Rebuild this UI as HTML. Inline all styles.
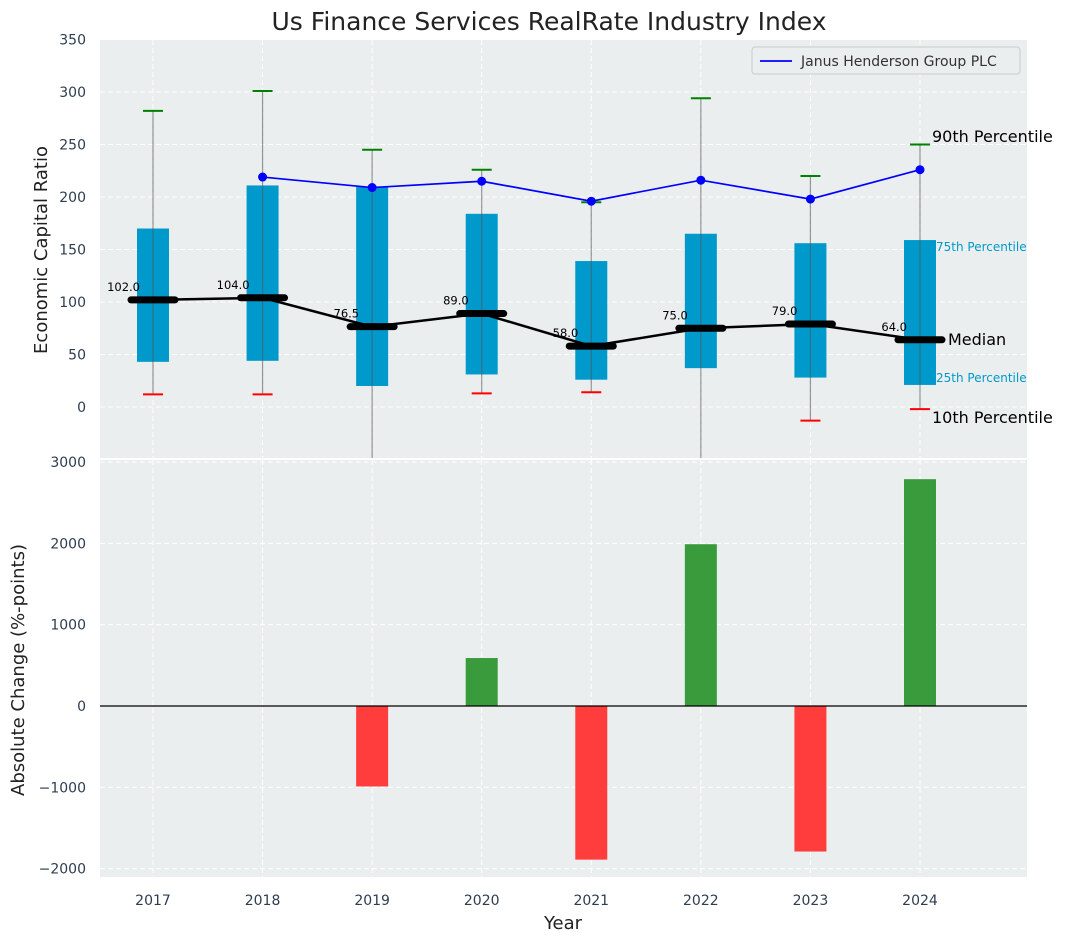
<!DOCTYPE html>
<html><head><meta charset="utf-8"><style>
body{margin:0;background:#fff;font-family:"Liberation Sans","DejaVu Sans",sans-serif}
svg text{font-family:"DejaVu Sans","Liberation Sans",sans-serif}
</style></head><body>
<svg id="c" width="1067" height="942" xmlns="http://www.w3.org/2000/svg"></svg>
<script>
const years=[2017,2018,2019,2020,2021,2022,2023,2024];
const q1=[43,44,20,31,26,37,28,21];
const q3=[170,211,210,184,139,165,156,159];
const p90=[282,301,245,226,195,294,220,250];
const p10=[12,12,-60,13,14,-60,-13,-2];
const medians=[102,104,76.5,89,58,75,79,64];
const janusYears=[2018,2019,2020,2021,2022,2023,2024];
const janus=[219,209,215,196,216,198,226];
const changes=[0,0,-990,590,-1890,1990,-1790,2790];
const topTicks=[0,50,100,150,200,250,300,350];
const botTicks=[-2000,-1000,0,1000,2000,3000];

const NS="http://www.w3.org/2000/svg";
const svg=document.getElementById('c');
function el(t,a,p){const e=document.createElementNS(NS,t);for(const k in a)e.setAttribute(k,a[k]);(p||svg).appendChild(e);return e;}
const L=100,R=1027,T1=40,B1=458,T2=460,B2=877;
const TC='#2e3d50';
const x=v=>153+(v-2017)*109.57;
const y1=v=>407-v*1.05;
const y2=v=>706-v*0.0813;
const clip1=el('clipPath',{id:'cp1'});el('rect',{x:L,y:T1,width:R-L,height:B1-T1},clip1);

let r=el('rect',{x:L,y:T1,width:R-L,height:B1-T1,fill:'#eaeeee'});

r=el('rect',{x:L,y:T2,width:R-L,height:B2-T2,fill:'#eaeeee'});


years.forEach(v=>{el('line',{x1:x(v),x2:x(v),y1:T1,y2:B1,stroke:'#fff','stroke-dasharray':'5,3'});el('line',{x1:x(v),x2:x(v),y1:T2,y2:B2,stroke:'#fff','stroke-dasharray':'5,3'});
 const t=el('text',{x:x(v),y:905,'text-anchor':'middle','font-size':14,fill:TC});t.textContent=v;
 });
topTicks.forEach(v=>{el('line',{x1:L,x2:R,y1:y1(v),y2:y1(v),stroke:'#fff','stroke-dasharray':'5,3'});
 const t=el('text',{x:86,y:y1(v)+5,'text-anchor':'end','font-size':14,fill:TC});t.textContent=v;
 });
botTicks.forEach(v=>{el('line',{x1:L,x2:R,y1:y2(v),y2:y2(v),stroke:'#fff','stroke-dasharray':'5,3'});
 const t=el('text',{x:86,y:y2(v)+5,'text-anchor':'end','font-size':14,fill:TC});t.textContent=v<0?'\u2212'+(-v):v;
 });

const g1=el('g',{'clip-path':'url(#cp1)'});
years.forEach((v,i)=>{
 const b=el('rect',{x:x(v)-16,y:y1(q3[i]),width:32,height:y1(q1[i])-y1(q3[i]),fill:'#0099cc'},g1);
 
 el('line',{x1:x(v),x2:x(v),y1:y1(p10[i]),y2:y1(p90[i]),stroke:'#555','stroke-opacity':0.6,'stroke-width':1.2},g1);
 el('line',{x1:x(v)-10,x2:x(v)+10,y1:y1(p90[i]),y2:y1(p90[i]),stroke:'green','stroke-width':2},g1);
 el('line',{x1:x(v)-10,x2:x(v)+10,y1:y1(p10[i]),y2:y1(p10[i]),stroke:'red','stroke-width':2},g1);
});
let mp=el('polyline',{points:years.map((v,i)=>x(v)+','+y1(medians[i])).join(' '),fill:'none',stroke:'#000','stroke-width':2.5},g1);

years.forEach((v,i)=>{
 const m=el('line',{x1:x(v)-22,x2:x(v)+22,y1:y1(medians[i]),y2:y1(medians[i]),stroke:'#000','stroke-width':7,'stroke-linecap':'round'},g1);
 
 const t=el('text',{x:x(v)-13,y:y1(medians[i])-9,'text-anchor':'end','font-size':11.5,fill:'#000'});t.textContent=medians[i].toFixed(1);
 
});
let jp=el('polyline',{points:janusYears.map((v,i)=>x(v)+','+y1(janus[i])).join(' '),fill:'none',stroke:'blue','stroke-width':1.7});

janusYears.forEach((v,i)=>{const c=el('circle',{cx:x(v),cy:y1(janus[i]),r:4.5,fill:'blue'});
 });
[['90th Percentile',932,142,16,'#000'],['75th Percentile',936,251,12,'#0099cc'],['Median',948,345,16,'#000'],['25th Percentile',936,382,12,'#0099cc'],['10th Percentile',932,423,16,'#000']].forEach(a=>{
 const t=el('text',{x:a[1],y:a[2],'font-size':a[3],fill:a[4]});t.textContent=a[0];
 });
const lg=el('g',{});
el('rect',{x:752,y:47,width:268,height:27,fill:'#eaeeee',stroke:'#ccc',rx:3},lg);
el('line',{x1:760,x2:792,y1:61,y2:61,stroke:'blue','stroke-width':1.7},lg);
let lt=el('text',{x:801,y:66,'font-size':14,fill:'#333'},lg);lt.textContent='Janus Henderson Group PLC';
years.forEach((v,i)=>{const c=changes[i];if(!c)return;
 const b=el('rect',{x:x(v)-16,y:Math.min(y2(c),y2(0)),width:32,height:Math.abs(y2(c)-y2(0)),fill:c>0?'#3a9b3d':'#ff3d3d'});
 });
el('line',{x1:L,x2:R,y1:y2(0),y2:y2(0),stroke:'#000','stroke-width':1.2});
el('line',{x1:L,x2:R,y1:459,y2:459,stroke:'#fff','stroke-width':2});
let t=el('text',{x:549,y:30,'text-anchor':'middle','font-size':25,fill:'#222'});t.textContent='Us Finance Services RealRate Industry Index';

t=el('text',{x:563,y:929,'text-anchor':'middle','font-size':18,fill:'#222'});t.textContent='Year';

t=el('text',{x:0,y:0,'text-anchor':'middle','font-size':18,fill:'#222',transform:'translate(47,250) rotate(-90)'});t.textContent='Economic Capital Ratio';

t=el('text',{x:0,y:0,'text-anchor':'middle','font-size':18,fill:'#222',transform:'translate(24,670) rotate(-90)'});t.textContent='Absolute Change (%-points)';

</script>
</body></html>
